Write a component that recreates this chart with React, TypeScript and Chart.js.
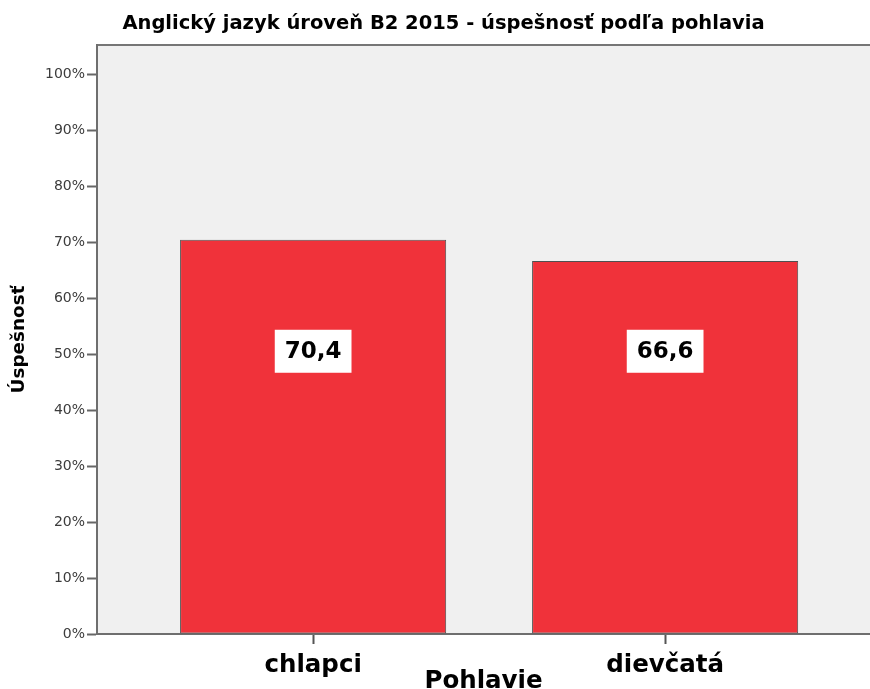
import React, { useEffect, useRef } from "react";
import { Chart, registerables } from "chart.js";

Chart.register(...registerables);

const titleText = "Anglický jazyk úroveň B2 2015 - úspešnosť podľa pohlavia";
const categories = ["chlapci", "dievčatá"];
const successRates = [70.4, 66.6];
const yTickValues = [0, 10, 20, 30, 40, 50, 60, 70, 80, 90, 100];
const xAxisTitle = "Pohlavie";
const yAxisTitle = "Úspešnosť";
const labelAnchorValue = 50.5;

const FONT = "'DejaVu Sans', sans-serif";

const plotBgPlugin = {
  id: "plotBg",
  beforeDraw(chart: any) {
    const { ctx, chartArea } = chart;
    const { left, top, right, bottom } = chartArea;
    ctx.save();
    ctx.fillStyle = "#F0F0F0";
    ctx.fillRect(left, top, right - left, bottom - top);
    ctx.strokeStyle = "#767676";
    ctx.lineWidth = 2;
    ctx.beginPath();
    ctx.moveTo(left - 1, top);
    ctx.lineTo(right, top);
    ctx.stroke();
    ctx.restore();
  },
};

const titlePlugin = {
  id: "customTitle",
  afterDraw(chart: any) {
    const { ctx } = chart;
    ctx.save();
    ctx.font = `bold 19.5px ${FONT}`;
    ctx.fillStyle = "#000";
    ctx.textAlign = "center";
    ctx.textBaseline = "middle";
    ctx.fillText(titleText, 443.5, 24);
    ctx.restore();
  },
};

const valueLabelPlugin = {
  id: "valueLabels",
  afterDatasetsDraw(chart: any) {
    const { ctx } = chart;
    const meta = chart.getDatasetMeta(0);
    const yScale = chart.scales.y;
    ctx.save();
    ctx.font = `bold 23px ${FONT}`;
    ctx.textAlign = "center";
    ctx.textBaseline = "middle";
    meta.data.forEach((bar: any, i: number) => {
      const text = successRates[i].toFixed(1).replace(".", ",");
      const w = ctx.measureText(text).width + 20;
      const h = 43;
      const cx = bar.x;
      const cy = yScale.getPixelForValue(labelAnchorValue);
      ctx.fillStyle = "#FFFFFF";
      ctx.fillRect(cx - w / 2, cy - h / 2, w, h);
      ctx.fillStyle = "#000";
      ctx.fillText(text, cx, cy + 1);
    });
    ctx.restore();
  },
};

export default function App() {
  const canvasRef = useRef<HTMLCanvasElement | null>(null);

  useEffect(() => {
    if (!canvasRef.current) return;
    const chart = new Chart(canvasRef.current, {
      type: "bar",
      data: {
        datasets: [
          {
            data: categories.map((c, i) => ({ x: i, y: successRates[i] })),
            backgroundColor: "#F0323A",
            borderColor: "#505050",
            borderWidth: 1,
            borderSkipped: false,
            categoryPercentage: 1,
            barPercentage: 0.756,
          },
        ],
      },
      options: {
        animation: false,
        responsive: false,
        layout: { padding: { top: 45, left: 0, right: 0, bottom: 0 } },
        plugins: {
          legend: { display: false },
          tooltip: { enabled: false },
          title: { display: false },
        },
        scales: {
          x: {
            type: "linear",
            min: -0.614,
            max: 1.582,
            bounds: "data",
            offset: false,
            afterBuildTicks: (s: any) => {
              s.ticks = categories.map((_, i) => ({ value: i }));
            },
            afterFit: (s: any) => {
              s.height = 55;
            },
            ticks: {
              callback: (v: any) => categories[v] ?? "",
              font: { family: FONT, size: 24.5, weight: "bold" },
              color: "#000",
              padding: 7,
              maxRotation: 0,
              autoSkip: false,
            },
            grid: {
              offset: false,
              drawOnChartArea: false,
              drawTicks: true,
              tickLength: 10,
              tickColor: "#555",
              tickWidth: 2,
            },
            border: { display: true, color: "#6e6e6e", width: 2 },
            title: {
              display: true,
              text: xAxisTitle,
              font: { family: FONT, size: 24.5, weight: "bold" },
              color: "#000",
              padding: { top: 0, bottom: -7 },
            },
          },
          y: {
            min: 0,
            max: 105.2,
            afterBuildTicks: (s: any) => {
              s.ticks = yTickValues.map((v) => ({ value: v }));
            },
            afterFit: (s: any) => {
              s.width = 97;
            },
            ticks: {
              callback: (v: any) => `${v}%`,
              font: { family: FONT, size: 14 },
              color: "#3c3c3c",
              padding: 2,
              autoSkip: false,
            },
            grid: {
              drawOnChartArea: false,
              drawTicks: true,
              tickLength: 10,
              tickColor: "#666",
              tickWidth: 2,
            },
            border: { display: true, color: "#6e6e6e", width: 2 },
            title: {
              display: true,
              text: yAxisTitle,
              font: { family: FONT, size: 18.4, weight: "bold" },
              color: "#000",
              padding: { top: 8, bottom: 0 },
            },
          },
        },
      },
      plugins: [plotBgPlugin, valueLabelPlugin, titlePlugin],
    } as any);
    return () => chart.destroy();
  }, []);

  return (
    <div style={{ position: "absolute", left: 0, top: 0, width: 870, height: 689 }}>
      <canvas ref={canvasRef} width={870} height={689} style={{ display: "block" }} />
    </div>
  );
}
